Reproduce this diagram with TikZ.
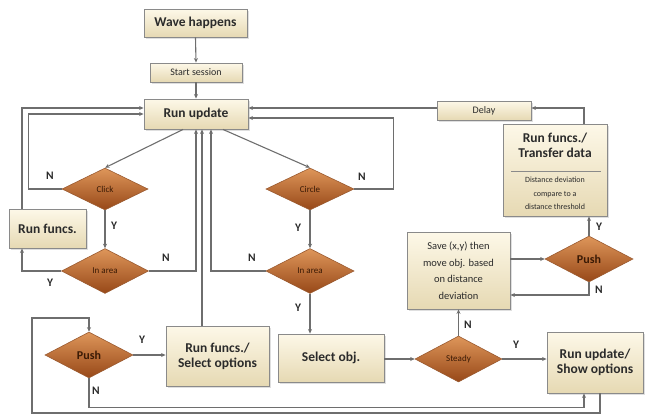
\documentclass[tikz,border=0pt]{standalone}
\usepackage{fontspec}
\setmainfont{Carlito}
\usetikzlibrary{arrows.meta,shapes.geometric,shadows}
\definecolor{boxtop}{HTML}{FDF8E8}
\definecolor{boxbot}{HTML}{E6D9B3}
\definecolor{boxline}{HTML}{8A8A8A}
\definecolor{dtop}{HTML}{DE965A}
\definecolor{dbot}{HTML}{974818}
\definecolor{dline}{HTML}{9A5A30}
\definecolor{conn}{HTML}{6E6E6E}
\definecolor{txt}{HTML}{2B2B2B}
\definecolor{dtxt}{HTML}{3A1A05}
\tikzset{
  box/.style={draw=boxline,line width=0.9pt,top color=boxtop,bottom color=boxbot,
    inner sep=0pt,align=center,text=txt,
    drop shadow={opacity=0.25,shadow xshift=1.5pt,shadow yshift=-1.5pt}},
  bigtxt/.style={font=\fontsize{13.5}{15}\selectfont\bfseries},
  smalltxt/.style={font=\fontsize{10}{12}\selectfont},
  dec/.style={diamond,aspect=2,draw=dline,line width=0.6pt,top color=dtop,bottom color=dbot,
    inner sep=0pt,text=dtxt,font=\fontsize{9}{10}\selectfont},
  arr/.style={draw=conn,line width=1.1pt,-{Stealth[length=4.5pt,width=4pt]}},
  lbl/.style={text=txt,font=\fontsize{11.5}{14}\selectfont\bfseries,inner sep=0pt}
}
\begin{document}
\begin{tikzpicture}[x=1pt,y=-1pt]
\useasboundingbox (0,0) rectangle (645,416);
% boxes
\node[box,bigtxt,minimum width=103pt,minimum height=28pt] (wave) at (195.5,23) {Wave happens};
\node[box,smalltxt,minimum width=92pt,minimum height=19pt] (start) at (196,72.5) {Start session};
\node[box,bigtxt,minimum width=104pt,minimum height=30pt] (run) at (196,114) {Run update};
\node[box,smalltxt,minimum width=94pt,minimum height=19pt] (delay) at (484,110.5) {Delay};
\node[box,bigtxt,minimum width=77pt,minimum height=39pt] (funcs) at (47.5,228.5) {Run funcs.};
\node[box,bigtxt,minimum width=103pt,minimum height=60pt] (selopt) at (217.5,356) {Run funcs./\\Select options};
\node[box,bigtxt,minimum width=106pt,minimum height=48pt] (selobj) at (331,358) {Select obj.};
\node[box,bigtxt,minimum width=96pt,minimum height=61pt] (show) at (595,362.5) {Run update/\\Show options};
\node[box,font=\fontsize{10.5}{16.5}\selectfont,minimum width=103pt,minimum height=77pt] (save) at (458.5,270.5) {Save (x,y) then\\move obj. based\\on distance\\deviation};
\node[box,minimum width=104pt,minimum height=92pt] (xfer) at (555,170) {};
\node[bigtxt,text=txt,align=center,inner sep=0pt] (xfert) at (555,145) {Run funcs./\\Transfer data};
\draw[boxline,line width=0.9pt] (511,171) -- (601,171);
\node[font=\fontsize{8}{13.5}\selectfont,text=txt,align=center,inner sep=0pt] (xferd) at (555,193.5) {Distance deviation\\compare to a\\distance threshold};
% decisions
\node[dec,minimum width=86pt,minimum height=42pt] (click) at (105,189) {Click};
\node[dec,minimum width=88pt,minimum height=42pt] (circle) at (310,189) {Circle};
\node[dec,minimum width=87pt,minimum height=45pt] (inL) at (105,271) {In area};
\node[dec,minimum width=88pt,minimum height=45pt] (inR) at (310,271) {In area};
\node[dec,font=\fontsize{12}{14}\selectfont\bfseries,minimum width=88pt,minimum height=46pt] (pushL) at (89,355) {Push};
\node[dec,minimum width=87pt,minimum height=46pt] (steady) at (458.5,359) {Steady};
\node[dec,font=\fontsize{12}{14}\selectfont\bfseries,minimum width=88pt,minimum height=46pt] (pushR) at (589,259) {Push};
\coordinate (lp1) at (32,413);
\coordinate (lp2) at (32,318);
% connectors
\draw[arr] (wave.south) -- (start.north);
\draw[arr] (start.south) -- (run.north);
\draw[arr] ([xshift=-13pt]run.south) -- (click.north);
\draw[arr] ([xshift=27pt]run.south) -- (circle.north);
\draw[arr] (click.west) -- ++(-33,0) |- (run.west);
\draw[arr] ([xshift=-25.5pt]funcs.north) |- ([yshift=6pt]run.west);
\draw[arr] (click.south) -- (inL.north);
\draw[arr] (inL.east) -| (run.south);
\draw[arr] (inL.west) -| ([xshift=-25.5pt]funcs.south);
\draw[arr] (circle.south) -- (inR.north);
\draw[arr] (circle.east) -- ++(39,0) |- ([yshift=-4pt]run.east);
\draw[arr] (inR.west) -| ([xshift=15pt]run.south);
\draw[arr] (inR.south) -- (inR.south |- selobj.north);
\draw[arr] ([xshift=-15.5pt]selopt.north) -- ([xshift=6pt]run.south);
\draw[arr] (pushL.east) -- (pushL.east -| selopt.west);
\draw[arr] (selobj.east |- steady.west) -- (steady.west);
\draw[arr] (steady.east) -- (steady.east -| show.west);
\draw[arr] (steady.north) -- (save.south);
\draw[arr] (pushR.west -| save.east) -- (pushR.west);
\draw[arr] (pushR.south) |- ([yshift=-24.5pt]save.east);
\draw[arr] (pushR.north) -- (pushR.north |- xfer.south);
\draw[arr] ([xshift=29pt]xfer.north) |- ([yshift=2.5pt]delay.east);
\draw[arr] ([yshift=2.5pt]delay.west) -- ([yshift=6pt]run.east);
\draw[arr] (pushL.south) -- ++(0,29) -| ([xshift=-11pt]show.south);
\draw[arr] ([xshift=5pt]show.south) |- (lp1) -- (lp2) -| (pushL.north);
% labels
\node[lbl] (l1) at (50,176) {N};
\node[lbl] (l2) at (114,226) {Y};
\node[lbl] (l3) at (166,258) {N};
\node[lbl] (l4) at (50,283) {Y};
\node[lbl] (l5) at (362,177) {N};
\node[lbl] (l6) at (298,228) {Y};
\node[lbl] (l7) at (252,258) {N};
\node[lbl] (l8) at (298,308) {Y};
\node[lbl] (l9) at (142,340) {Y};
\node[lbl] (l10) at (96,391) {N};
\node[lbl] (l11) at (516,345) {Y};
\node[lbl] (l12) at (468,325) {N};
\node[lbl] (l13) at (599,227) {Y};
\node[lbl] (l14) at (599,290) {N};
\end{tikzpicture}
\end{document}
